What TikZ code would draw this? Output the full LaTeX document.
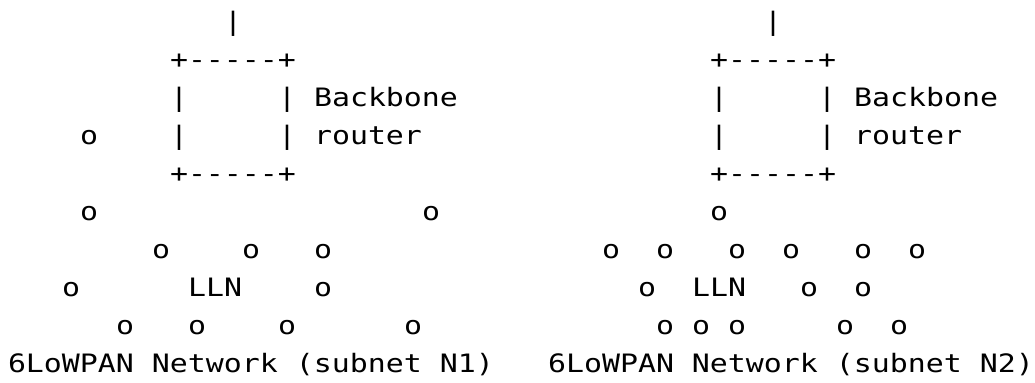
\documentclass[tikz,border=0pt]{standalone}
\usepackage{fontspec}
\newfontfamily\mono{DejaVu Sans Mono}[FakeStretch=1.1802,Ligatures=TeXOff]
\begin{document}
\begin{tikzpicture}[x=1pt,y=1pt,
  txt/.style={inner sep=0pt,outer sep=0pt,anchor=base west,font=\mono\fontsize{19}{23}\selectfont},
  cell/.style 2 args={at={({6pt+13.5pt*#1},{263.4pt-28.5pt*#2})}}]
\useasboundingbox (0,0) rectangle (776.25,286.5);
% row 0
\node[txt,cell={12}{0}] (upA) {|};
\node[txt,cell={42}{0}] (upB) {|};
% row 1
\node[txt,cell={9}{1}] (topA) {+-----+};
\node[txt,cell={39}{1}] (topB) {+-----+};
% row 2
\node[txt,cell={9}{2}] (lA2) {|};
\node[txt,cell={15}{2}] (rA2) {|};
\node[txt,cell={17}{2}] (bbA) {Backbone};
\node[txt,cell={39}{2}] (lB2) {|};
\node[txt,cell={45}{2}] (rB2) {|};
\node[txt,cell={47}{2}] (bbB) {Backbone};
% row 3
\node[txt,cell={4}{3}] (o30) {o};
\node[txt,cell={9}{3}] (lA3) {|};
\node[txt,cell={15}{3}] (rA3) {|};
\node[txt,cell={17}{3}] (rtA) {router};
\node[txt,cell={39}{3}] (lB3) {|};
\node[txt,cell={45}{3}] (rB3) {|};
\node[txt,cell={47}{3}] (rtB) {router};
% row 4
\node[txt,cell={9}{4}] (botA) {+-----+};
\node[txt,cell={39}{4}] (botB) {+-----+};
% row 5
\node[txt,cell={4}{5}] (o50) {o};
\node[txt,cell={23}{5}] (o51) {o};
\node[txt,cell={39}{5}] (o52) {o};
% row 6
\node[txt,cell={8}{6}] (o60) {o};
\node[txt,cell={13}{6}] (o61) {o};
\node[txt,cell={17}{6}] (o62) {o};
\node[txt,cell={33}{6}] (o63) {o};
\node[txt,cell={36}{6}] (o64) {o};
\node[txt,cell={40}{6}] (o65) {o};
\node[txt,cell={43}{6}] (o66) {o};
\node[txt,cell={47}{6}] (o67) {o};
\node[txt,cell={50}{6}] (o68) {o};
% row 7
\node[txt,cell={3}{7}] (o70) {o};
\node[txt,cell={10}{7}] (llnA) {LLN};
\node[txt,cell={17}{7}] (o71) {o};
\node[txt,cell={35}{7}] (o72) {o};
\node[txt,cell={38}{7}] (llnB) {LLN};
\node[txt,cell={44}{7}] (o73) {o};
\node[txt,cell={47}{7}] (o74) {o};
% row 8
\node[txt,cell={6}{8}] (o80) {o};
\node[txt,cell={10}{8}] (o81) {o};
\node[txt,cell={15}{8}] (o82) {o};
\node[txt,cell={22}{8}] (o83) {o};
\node[txt,cell={36}{8}] (o84) {o};
\node[txt,cell={38}{8}] (o85) {o};
\node[txt,cell={40}{8}] (o86) {o};
\node[txt,cell={46}{8}] (o87) {o};
\node[txt,cell={49}{8}] (o88) {o};
% row 9
\node[txt,cell={0}{9}] (netA) {6LoWPAN Network (subnet N1)};
\node[txt,cell={30}{9}] (netB) {6LoWPAN Network (subnet N2)};
\end{tikzpicture}
\end{document}
